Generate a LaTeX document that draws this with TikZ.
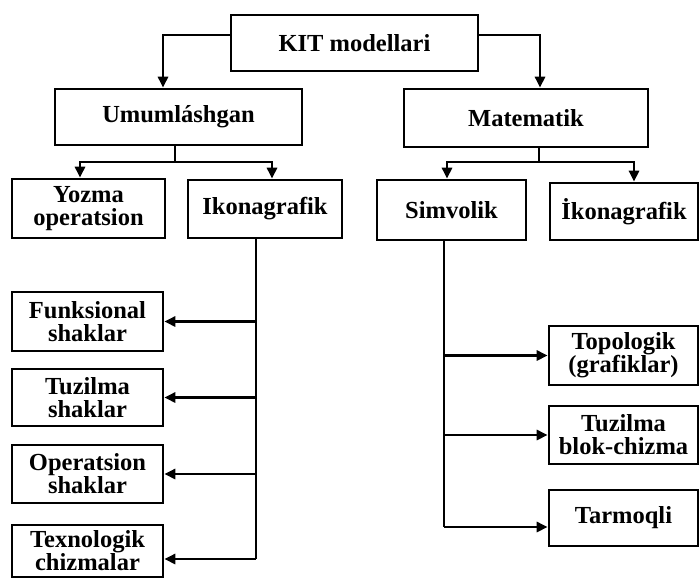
\documentclass[tikz,border=0pt]{standalone}
\usepackage{fontspec}
\setmainfont{Liberation Serif}
\usetikzlibrary{arrows.meta}
\begin{document}
\begin{tikzpicture}[x=1pt,y=-1pt,
  box/.style={draw, line width=2.6pt, inner sep=0pt, align=center,
    font=\fontsize{24.5}{23}\selectfont\bfseries},
  ln/.style={line width=2.6pt},
  arr/.style={line width=2.6pt, -{Triangle[length=11pt,width=10pt]}}]
\useasboundingbox (0,0) rectangle (699,578);
% boxes
\node[box, minimum width=247pt, minimum height=56pt] (kit) at (354.5,43) {KIT modellari};
\node[box, minimum width=247pt, minimum height=56pt] (umum) at (178.5,117) {Umumláshgan};
\node[box, minimum width=244pt, minimum height=58pt] (mat) at (526,118) {Matematik};
\node[box, minimum width=153pt, minimum height=59pt] (yoz) at (88.5,208.5) {Yozma\\operatsion};
\node[box, minimum width=154pt, minimum height=58pt] (ikonL) at (265,209) {Ikonagrafik};
\node[box, minimum width=149pt, minimum height=60pt] (simv) at (451.5,210) {Simvolik};
\node[box, minimum width=148pt, minimum height=57pt] (ikonR) at (624,211.5) {İkonagrafik};
\node[box, minimum width=151pt, minimum height=59pt] (funk) at (87.5,321.5) {Funksional\\shaklar};
\node[box, minimum width=151pt, minimum height=57pt] (tuz) at (87.5,397.5) {Tuzilma\\shaklar};
\node[box, minimum width=151pt, minimum height=58pt] (oper) at (87.5,474) {Operatsion\\shaklar};
\node[box, minimum width=151pt, minimum height=52pt] (tex) at (87.5,551) {Texnologik\\chizmalar};
\node[box, minimum width=149pt, minimum height=59pt] (topo) at (623.5,355.5) {Topologik\\(grafiklar)};
\node[box, minimum width=149pt, minimum height=58pt] (tuzb) at (623.5,435) {Tuzilma\\blok-chizma};
\node[box, minimum width=149pt, minimum height=56pt] (tarm) at (623.5,518) {Tarmoqli};
% top connectors
\draw[arr] ([yshift=8pt]kit.west) -| ([xshift=-15.5pt]umum.north);
\draw[arr] ([yshift=8pt]kit.east) -| ([xshift=14pt]mat.north);
% umumlashgan split
\coordinate (jL) at (175,162);
\draw[ln] (umum.south -| jL) -- (jL);
\draw[arr] (jL) -| ([xshift=-8.5pt]yoz.north);
\draw[arr] (jL) -| ([xshift=7pt]ikonL.north);
% matematik split
\coordinate (jR) at (539,162);
\draw[ln] (mat.south -| jR) -- (jR);
\draw[arr] (jR) -| ([xshift=-4.5pt]simv.north);
\draw[arr] (jR) -| ([xshift=10pt]ikonR.north);
% left spine
\coordinate (sL) at (256,559);
\draw[ln] (ikonL.south -| sL) -- (sL);
\draw[arr] (sL |- funk.east) -- (funk.east);
\draw[arr] (sL |- tuz.east) -- (tuz.east);
\draw[arr] (sL |- oper.east) -- (oper.east);
\draw[arr] (sL) -- (sL -| tex.east);
% right spine
\coordinate (sR) at (444,527);
\draw[ln] (simv.south -| sR) -- (sR);
\draw[arr] (sR |- topo.west) -- (topo.west);
\draw[arr] (sR |- tuzb.west) -- (tuzb.west);
\draw[arr] (sR) -- (sR -| tarm.west);
\end{tikzpicture}
\end{document}
